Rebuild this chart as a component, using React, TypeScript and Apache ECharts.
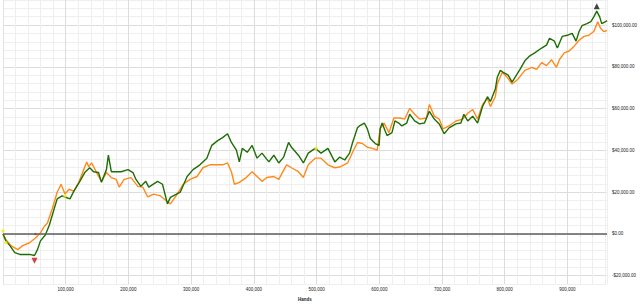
import { useEffect, useRef } from "react";
import * as echarts from "echarts";

// Net won (green), [hands, dollars]
const netWon: [number, number][] = [
  [0, 0], [4700, -3300], [11000, -5600], [18800, -8900], [26700, -9800], [34500, -9800], [42400, -9800], [50200, -10300],
  [55000, -7500], [59700, -3300], [67500, -500], [73800, 4200], [81600, 12100], [86400, 16800], [94200, 18200], [98900, 17700],
  [106800, 16800], [113000, 20500], [122500, 25200], [130300, 29400], [138200, 31700], [144400, 29800], [152300, 29400],
  [157000, 24700], [164900, 30800], [168000, 37700], [172700, 29800], [180600, 29800], [188400, 29800], [199400, 30800],
  [207200, 29400], [212000, 26100], [219800, 22800], [227700, 25200], [232400, 22400], [246500, 25200], [254300, 23800],
  [262200, 14400], [266900, 17500], [282600, 20000], [293600, 27500], [303000, 30800], [314000, 33100], [325000, 36300],
  [332800, 42400], [342300, 44700], [350100, 46100], [358000, 48000], [364200, 43800], [372100, 40100], [376800, 34500],
  [381500, 41000], [389400, 39100], [397200, 42400], [405100, 36300], [412900, 38700], [423900, 34500], [431800, 37700],
  [439600, 34000], [447500, 36800], [455300, 43800], [460000, 41500], [471000, 37700], [478900, 34000], [486700, 38700],
  [497700, 41000], [507100, 38700], [518100, 41000], [529100, 34500], [536900, 36800], [544800, 35400], [552600, 38700],
  [557400, 43800], [565200, 50800], [568300, 51700], [576200, 53100], [580900, 50300], [585600, 45700], [593500, 43300],
  [599700, 42400], [601300, 50300], [604500, 53100], [609200, 49400], [612300, 47100], [620200, 48500], [624900, 54100],
  [631100, 53100], [635900, 51700], [643700, 53100], [648400, 57300], [656300, 54100], [664100, 52700], [672000, 53100],
  [679800, 58700], [687700, 55000], [695500, 52700], [703400, 48000], [711200, 50800], [722200, 52700], [730100, 53100],
  [734800, 57300], [741000, 54100], [748900, 56400], [756700, 53100], [764600, 61000], [772400, 65700], [777200, 63400],
  [785000, 69400], [788100, 75000], [792900, 78300], [797600, 77400], [805400, 76000], [811700, 72700], [816400, 75000],
  [824300, 78800], [832100, 82900], [840000, 85300], [847800, 86700], [858800, 89000], [866600, 90400], [871400, 93700],
  [879200, 92300], [883900, 89000], [891800, 94600], [899600, 95100], [907500, 96000], [913700, 92300], [918500, 96900],
  [923200, 99700], [931000, 100700], [937300, 101600], [942000, 103900], [946700, 106700], [951400, 103900],
  [954600, 100700], [960800, 101600], [963000, 102100],
];

// All-in EV (orange), [hands, dollars]
const allInEv: [number, number][] = [
  [0, 0], [4700, -2800], [12600, -5600], [23600, -7500], [31400, -5600], [42400, -4200], [51800, -1900], [59700, 500],
  [65900, 3700], [70700, 5100], [78500, 12100], [86400, 20000], [92600, 23800], [98900, 19100], [105200, 21400],
  [113000, 20500], [120900, 24700], [128700, 30800], [133500, 34500], [136600, 32200], [141300, 34000], [149200, 29400],
  [157000, 25200], [164900, 29400], [172700, 27000], [180600, 26100], [185300, 22400], [193100, 26100], [204100, 27000],
  [215100, 22800], [222900, 22400], [230800, 17700], [240200, 19100], [251200, 18200], [262200, 15400], [266900, 14400],
  [277900, 19100], [287300, 23800], [298300, 26100], [309300, 27500], [318700, 31700], [329700, 33100], [340700, 33100],
  [350100, 33100], [358000, 34000], [364200, 29800], [369000, 23800], [376800, 24700], [387800, 27000], [397200, 29800],
  [405100, 27500], [412900, 25200], [420800, 27000], [431800, 27500], [439600, 26100], [452200, 33100], [460000, 31700],
  [471000, 29800], [478900, 27000], [486700, 33100], [497700, 36300], [507100, 36300], [518100, 33100], [529100, 31700],
  [538500, 32200], [549500, 34000], [557400, 39100], [565200, 43800], [573100, 43300], [580900, 41500], [588800, 41000],
  [596600, 40100], [601300, 50300], [607600, 53100], [615400, 48500], [623300, 55500], [632700, 55500], [640600, 55000],
  [648400, 60100], [656300, 57300], [664100, 55000], [675100, 55500], [679800, 62000], [687700, 56400], [695500, 55000],
  [701800, 50300], [711200, 51700], [722200, 54100], [733200, 55000], [741000, 57800], [748900, 59600], [756700, 55000],
  [764600, 62000], [772400, 64800], [777200, 61000], [785000, 65700], [788100, 71800], [796000, 77400], [803800, 75000],
  [811700, 71800], [821100, 74100], [832100, 78300], [843100, 79700], [850900, 78800], [858800, 82000], [866600, 80600],
  [874500, 83400], [882300, 79700], [887100, 83400], [894900, 86700], [902800, 87600], [910600, 89900], [918500, 92700],
  [926300, 94600], [934200, 95100], [942000, 96900], [948300, 101600], [953000, 98300], [957700, 96900], [963000, 97400],
];

const notePoints: [number, number][] = [[0, 1400], [4700, -4200], [98900, 18200], [499300, 41000]];
const redPoints: [number, number][] = [[51800, 0]];
const maxPoint: [number, number][] = [[946700, 109000]];
const minPoint: [number, number][] = [[50200, -12800]];

const xMin = 0;
const xMax = 963000;
const yMin = -24000;
const yMax = 112000;

const fmtMoney = (v: number) => {
  const s = "$" + Math.abs(v).toLocaleString("en-US", { minimumFractionDigits: 2, maximumFractionDigits: 2 });
  return v < 0 ? "-" + s : s;
};

export default function App() {
  const ref = useRef<HTMLDivElement>(null);
  useEffect(() => {
    document.body.style.margin = "0";
    const chart = echarts.init(ref.current!, undefined, { renderer: "svg" });
    const font = "Liberation Sans";
    const minor = "#efefef";
    const major = "#dcdcdc";
    chart.setOption({
      animation: false,
      grid: { left: 0, right: 27, top: 0, bottom: 15, containLabel: false },
      xAxis: {
        type: "value",
        min: xMin,
        max: xMax,
        interval: 20000,
        name: "Hands",
        nameLocation: "middle",
        nameGap: 9,
        nameTextStyle: { fontFamily: font, fontSize: 4.5, fontWeight: "bold", color: "#222" },
        axisLine: { show: true, lineStyle: { color: "#e2e2e2", width: 1 } },
        axisTick: { show: true, length: 3, lineStyle: { color: "#e2e2e2" } },
        axisLabel: {
          fontFamily: font,
          fontSize: 4.5,
          color: "#222",
          margin: 3,
          showMaxLabel: false,
          formatter: (v: number) => (v > 0 && v % 100000 === 0 ? v.toLocaleString("en-US") : ""),
        },
        splitLine: { show: true, lineStyle: { color: [major, minor, minor, minor, minor], width: 1 } },
      },
      yAxis: {
        type: "value",
        position: "right",
        min: yMin,
        max: yMax,
        interval: 4000,
        axisLine: { show: true, lineStyle: { color: "#e2e2e2", width: 1 } },
        axisTick: { show: false },
        axisLabel: {
          fontFamily: font,
          fontSize: 4.5,
          color: "#222",
          margin: 5,
          formatter: (v: number) => (v % 20000 === 0 ? fmtMoney(v) : ""),
        },
        splitLine: { show: true, lineStyle: { color: [minor, major, minor, minor, minor], width: 1 } },
      },
      series: [
        {
          type: "line",
          data: allInEv,
          showSymbol: false,
          symbol: "none",
          lineStyle: { color: "#ff8a1c", width: 1.4 },
          z: 2,
          markLine: {
            silent: true,
            symbol: "none",
            label: { show: false },
            lineStyle: { color: "#5e5e5e", width: 1.6, type: "solid" },
            data: [{ yAxis: 0 }],
          },
        },
        {
          type: "line",
          data: netWon,
          showSymbol: false,
          symbol: "none",
          lineStyle: { color: "#1f6e05", width: 1.4 },
          z: 3,
        },
        {
          type: "scatter",
          data: notePoints,
          symbol: "circle",
          symbolSize: 3.5,
          itemStyle: { color: "#f0ee10" },
          z: 4,
        },
        {
          type: "scatter",
          data: redPoints,
          symbol: "circle",
          symbolSize: 2.5,
          itemStyle: { color: "#d42020" },
          z: 4,
        },
        {
          type: "scatter",
          data: maxPoint,
          symbol: "triangle",
          symbolSize: 6,
          itemStyle: { color: "#111111" },
          z: 5,
        },
        {
          type: "scatter",
          data: minPoint,
          symbol: "triangle",
          symbolRotate: 180,
          symbolSize: 6,
          itemStyle: { color: "#d01010" },
          z: 5,
        },
      ],
    });
    return () => chart.dispose();
  }, []);
  return <div ref={ref} style={{ position: "absolute", left: 0, top: 0, width: 640, height: 307 }} />;
}
